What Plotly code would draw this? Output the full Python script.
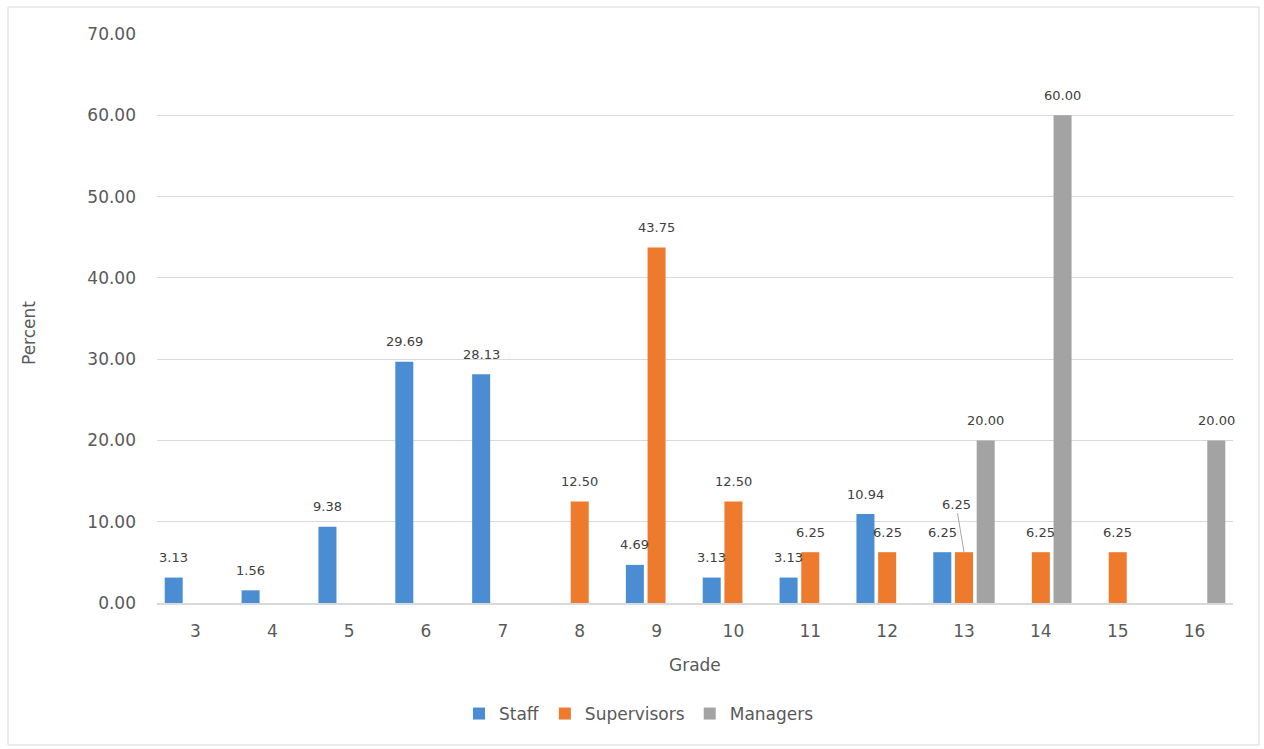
import plotly.graph_objects as go

grades = ["3", "4", "5", "6", "7", "8", "9", "10", "11", "12", "13", "14", "15", "16"]
staff = [3.13, 1.56, 9.38, 29.69, 28.13, 0, 4.69, 3.13, 3.13, 10.94, 6.25, 0, 0, 0]
supervisors = [0, 0, 0, 0, 0, 12.50, 43.75, 12.50, 6.25, 6.25, 6.25, 6.25, 6.25, 0]
managers = [0, 0, 0, 0, 0, 0, 0, 0, 0, 0, 20.00, 60.00, 0, 20.00]
series_names = ["Staff", "Supervisors", "Managers"]
series_colors = ["#4a8dd3", "#ee7a2e", "#a3a3a3"]
y_ticks = [0, 10, 20, 30, 40, 50, 60, 70]

W, H = 1264, 749
ML, MR, MT, MB = 157, 31, 34, 146
PW, PH = W - ML - MR, H - MT - MB
BARGAP = 0.153
BARGROUPGAP = 0.17

fig = go.Figure()
all_series = [staff, supervisors, managers]
for name, vals, col in zip(series_names, all_series, series_colors):
    fig.add_trace(go.Bar(
        x=grades, y=vals, name=name,
        marker=dict(color=col, line=dict(width=0)),
        hoverinfo="x+y+name",
    ))

# data labels
cat_w = PW / len(grades)
slot = cat_w * (1 - BARGAP) / 3
annotations = []
lbl_font = dict(family="DejaVu Sans", size=13, color="#404040")
for si, vals in enumerate(all_series):
    for gi, (g, v) in enumerate(zip(grades, vals)):
        if v == 0:
            continue
        xs = (si - 1) * slot
        if series_names[si] == "Supervisors" and g == "13":
            annotations.append(dict(
                x=gi, y=v, xref="x", yref="y", xshift=xs,
                text=f"{v:.2f}", showarrow=True, arrowhead=0, arrowwidth=1,
                arrowcolor="#a6a6a6", ax=-8, ay=-48, standoff=0,
                font=lbl_font,
            ))
        else:
            annotations.append(dict(
                x=gi, y=v, xref="x", yref="y", xshift=xs, yshift=20,
                text=f"{v:.2f}", showarrow=False, yanchor="middle",
                font=lbl_font,
            ))

# axis titles
annotations.append(dict(
    x=(29 - ML) / PW, y=(H - MB - 333) / PH, xref="paper", yref="paper",
    xanchor="center", yanchor="middle",
    text="Percent", textangle=-90, showarrow=False,
    font=dict(family="DejaVu Sans", size=17, color="#595959"),
))
annotations.append(dict(
    x=0.5, y=(H - MB - 665) / PH, xref="paper", yref="paper",
    xanchor="center", yanchor="middle",
    text="Grade", showarrow=False,
    font=dict(family="DejaVu Sans", size=17, color="#595959"),
))

shapes = [dict(
    type="rect", xref="paper", yref="paper",
    x0=(8 - ML) / PW, x1=(1259 - ML) / PW,
    y0=(H - MB - 745) / PH, y1=(H - MB - 7) / PH,
    line=dict(color="#d9d9d9", width=1), fillcolor="rgba(0,0,0,0)", layer="below",
)]

fig.update_layout(
    width=W, height=H,
    margin=dict(l=ML, r=MR, t=MT, b=MB),
    paper_bgcolor="white", plot_bgcolor="white",
    barmode="group", bargap=BARGAP, bargroupgap=BARGROUPGAP,
    font=dict(family="DejaVu Sans", size=17, color="#595959"),
    showlegend=True,
    legend=dict(
        orientation="h", x=(639 - ML) / PW, xanchor="center",
        y=(H - MB - 714) / PH, yanchor="middle",
        font=dict(family="DejaVu Sans", size=17, color="#595959"),
        itemwidth=30, tracegroupgap=0,
    ),
    annotations=annotations,
    shapes=shapes,
    xaxis=dict(
        type="category", range=[-0.5, len(grades) - 0.5],
        showgrid=False, showline=True, linecolor="#d9d9d9",
        linewidth=2, ticks="", ticklabelstandoff=12,
        tickfont=dict(family="DejaVu Sans", size=17, color="#595959"),
    ),
    yaxis=dict(
        range=[0, 70], tickvals=y_ticks,
        ticktext=[f"{t:.2f}" for t in y_ticks],
        showgrid=True, gridcolor="#d9d9d9", gridwidth=1,
        zeroline=False, showline=False, ticks="", ticklabelstandoff=20,
        tickfont=dict(family="DejaVu Sans", size=17, color="#595959"),
    ),
)

fig.write_html("out.html")
